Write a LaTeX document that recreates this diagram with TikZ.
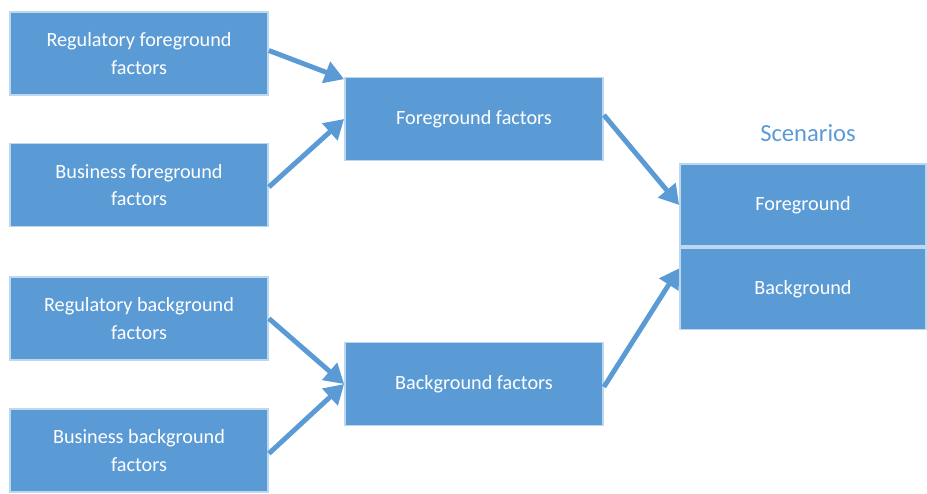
\documentclass[tikz,border=0pt]{standalone}
\usepackage{fontspec}
\setmainfont{Carlito}
\usepackage{xcolor}
\usetikzlibrary{arrows.meta, positioning, calc}
\definecolor{boxblue}{HTML}{5B9BD5}
\definecolor{edgeblue}{HTML}{BDD7EE}
\definecolor{titleblue}{HTML}{5B9BD5}
\tikzset{>=latex}

\begin{document}
\begin{tikzpicture}[
    factorbox/.style={rectangle, fill=boxblue, draw=edgeblue, line width=1pt, text=white,
        minimum width=5.16cm, minimum height=1.66cm, align=center,
        font=\fontsize{11.5}{15.5}\selectfont},
    scenbox/.style={factorbox, minimum width=4.92cm, minimum height=1.62cm},
    flowarrow/.style={draw=boxblue, line width=2.8pt, -{Triangle[length=11pt, width=12.5pt]}}
]
    % Frame
    \useasboundingbox (0,0) rectangle (18.54,-9.86);

    % Input factors
    \node[factorbox] (regfg) at (2.78,-1.07) {Regulatory foreground\\factors};
    \node[factorbox] (busfg) at (2.78,-3.70) {Business foreground\\factors};
    \node[factorbox] (regbg) at (2.78,-6.37) {Regulatory background\\factors};
    \node[factorbox] (busbg) at (2.78,-9.01) {Business background\\factors};

    % Grouped factors
    \node[factorbox] (fgfac) at (9.48,-2.38) {Foreground factors};
    \node[factorbox] (bgfac) at (9.48,-7.68) {Background factors};

    % Scenarios
    \fill[edgeblue] (13.58,-3.26) rectangle (18.54,-6.60);
    \node[scenbox] (scenfg) at (16.06,-4.10) {Foreground};
    \node[scenbox] (scenbg) at (16.06,-5.78) {Background};
    \node[text=titleblue, font=\fontsize{14}{16}\selectfont] (scentitle) at (16.16,-2.66) {Scenarios};

    % Arrows
    \draw[flowarrow] (regfg.east) ++(0,0.06) -- ($(fgfac.north west)!0.03!(fgfac.south west)$);
    \draw[flowarrow] (busfg.east) ++(0,-0.04) -- (fgfac.west);
    \draw[flowarrow] (regbg.east) -- (bgfac.west);
    \draw[flowarrow] (busbg.east) ++(0,-0.06) -- (bgfac.west);
    \draw[flowarrow] (fgfac.east) ++(0,0.08) -- (scenfg.west);
    \draw[flowarrow] (bgfac.east) ++(0,-0.06) -- ($(scenbg.north west)!0.5!(scenbg.west)$);
\end{tikzpicture}
\end{document}
